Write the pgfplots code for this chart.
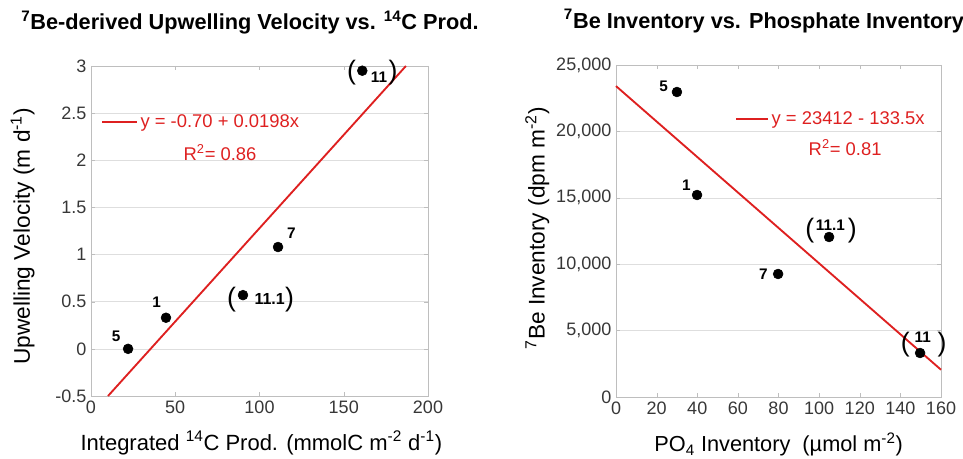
\documentclass[border=0pt]{standalone}
\usepackage{fontspec}
\setmainfont{Liberation Sans}
\usepackage{pgfplots}
\pgfplotsset{compat=1.18}
\definecolor{fitred}{RGB}{222,32,32}
\definecolor{tickgray}{RGB}{55,55,55}
\definecolor{framegray}{RGB}{190,190,190}
\definecolor{gridgray}{RGB}{222,222,222}
\tikzset{
  lab/.style={font=\fontsize{11.5}{13}\selectfont\bfseries, inner sep=0pt},
  paren/.style={font=\fontsize{20}{20}\selectfont, inner sep=0pt},
  fittext/.style={text=fitred, font=\fontsize{13.8}{16}\selectfont},
}
\pgfplotsset{
  common/.style={
    scale only axis, clip=false,
    axis line style={framegray}, tick style={framegray}, major tick length=3pt,
    ymajorgrids, grid style={gridgray},
    tick label style={font=\fontsize{13.5}{15}\selectfont, text=tickgray},
    /pgf/number format/assume math mode=true,
    scaled ticks=false,
    legend style={draw=none, fill=none, inner sep=0pt, font=\fontsize{13.8}{16}\selectfont, text=fitred},
  },
}
\begin{document}
\begin{tikzpicture}[x=1pt,y=1pt]
\path[use as bounding box] (0pt,0pt) rectangle (722.25pt,344.25pt);
% ---------- left panel ----------
\begin{axis}[common, at={(68.25pt,47.25pt)}, anchor=south west,
  width=252.75pt, height=247.5pt,
  xmin=0, xmax=200, ymin=-0.5, ymax=3,
  xtick={0,50,100,150,200}, ytick={-0.5,0,0.5,1,1.5,2,2.5,3},
  yticklabel style={/pgf/number format/fixed},
  legend style={at={(axis cs:6,2.41)}, anchor=west},
  legend image code/.code={\draw[#1] (0pt,0pt) -- (26pt,0pt);},
]
\addplot[fitred, line width=1.4pt] coordinates {(10.1,-0.5) (186.9,3.0)};
\addlegendentry{y = -0.70 + 0.0198x}
\addplot[only marks, mark=*, mark size=3.7pt, black, forget plot] coordinates {
  (22,0) (44.5,0.33) (90.2,0.57) (111,1.08) (161,2.95)};
\node[fittext] at (axis cs:76.6,2.08) {R\textsuperscript{2}= 0.86};
\node[lab, xshift=-9pt, yshift=9.75pt] at (axis cs:22,0) {5};
\node[lab, xshift=-7pt, yshift=12pt] at (axis cs:44.5,0.33) {1};
\node[lab, xshift=10pt, yshift=10.5pt] at (axis cs:111,1.08) {7};
\node[font=\fontsize{12}{13}\selectfont\bfseries, inner sep=0pt, xshift=20pt, yshift=-3pt] at (axis cs:90.2,0.57) {11.1};
\node[paren, xshift=-8.5pt, yshift=-3pt] at (axis cs:90.2,0.57) {(};
\node[paren, xshift=35pt, yshift=-3pt] at (axis cs:90.2,0.57) {)};
\node[lab, xshift=12.5pt, yshift=-5pt] at (axis cs:161,2.95) {11};
\node[paren, xshift=-8pt, yshift=-1.5pt] at (axis cs:161,2.95) {(};
\node[paren, xshift=23pt, yshift=-1.5pt] at (axis cs:161,2.95) {)};
\end{axis}
% ---------- right panel ----------
\begin{axis}[common, at={(462pt,46.5pt)}, anchor=south west,
  width=243.75pt, height=249pt,
  xmin=0, xmax=160, ymin=0, ymax=25000,
  xtick={0,20,...,160}, ytick={0,5000,...,25000},
  yticklabel style={/pgf/number format/.cd, fixed, 1000 sep={,}},
  legend style={at={(axis cs:58.5,20934)}, anchor=west},
  legend image code/.code={\draw[#1] (0pt,0pt) -- (24pt,0pt);},
]
\addplot[fitred, line width=1.4pt] coordinates {(0,23412) (160,2052)};
\addlegendentry{y = 23412 - 133.5x}
\addplot[only marks, mark=*, mark size=3.7pt, black, forget plot] coordinates {
  (30,22967) (39.9,15211) (104.9,12048) (79.8,9262) (149.7,3313)};
\node[fittext] at (axis cs:112.8,18750) {R\textsuperscript{2}= 0.81};
\node[lab, xshift=-10pt, yshift=4pt] at (axis cs:30,22967) {5};
\node[lab, xshift=-8pt, yshift=7.5pt] at (axis cs:39.9,15211) {1};
\node[lab, xshift=-11pt, yshift=0pt] at (axis cs:79.8,9262) {7};
\node[lab, xshift=1pt, yshift=9pt] at (axis cs:104.9,12048) {11.1};
\node[paren, xshift=-14.5pt, yshift=5pt] at (axis cs:104.9,12048) {(};
\node[paren, xshift=17.5pt, yshift=5pt] at (axis cs:104.9,12048) {)};
\node[lab, xshift=2pt, yshift=12pt] at (axis cs:149.7,3313) {11};
\node[paren, xshift=-11pt, yshift=6pt] at (axis cs:149.7,3313) {(};
\node[paren, xshift=16.5pt, yshift=6pt] at (axis cs:149.7,3313) {)};
\end{axis}
% ---------- titles and labels ----------
\node[font=\fontsize{16.3}{19}\selectfont\bfseries] at (187.5pt,327.5pt) {\textsuperscript{7}Be-derived Upwelling Velocity vs. \textsuperscript{14}C Prod.};
\node[font=\fontsize{16.3}{19}\selectfont\bfseries] at (573pt,328.5pt) {\textsuperscript{7}Be Inventory vs. Phosphate Inventory};
\node[font=\fontsize{17}{19}\selectfont, rotate=90] at (17pt,167pt) {Upwelling Velocity (m d\textsuperscript{-1})};
\node[font=\fontsize{17}{19}\selectfont, rotate=90] at (403pt,173pt) {\textsuperscript{7}Be Inventory (dpm m\textsuperscript{-2})};
\node[font=\fontsize{16.5}{19}\selectfont] at (196pt,12pt) {Integrated \textsuperscript{14}C Prod. (mmolC m\textsuperscript{-2} d\textsuperscript{-1})};
\node[font=\fontsize{16.3}{19}\selectfont] at (584pt,11pt) {PO\textsubscript{4} Inventory~~(µmol m\textsuperscript{-2})};
\end{tikzpicture}
\end{document}
